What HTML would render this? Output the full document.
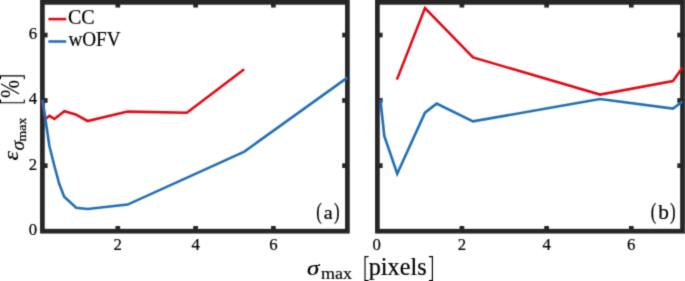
<!DOCTYPE html>
<html><head><meta charset="utf-8"><style>
html,body{margin:0;padding:0;background:#fff;width:685px;height:281px;overflow:hidden}
svg{display:block}
</style></head><body>
<svg width="685" height="281" viewBox="0 0 685 281">
<defs><clipPath id="cl"><rect x="42.4" y="2.35" width="305" height="228.45"/></clipPath><clipPath id="cr"><rect x="377.4" y="2.35" width="305.1" height="228.45"/></clipPath><filter id="bl" filterUnits="userSpaceOnUse" x="0" y="0" width="685" height="281" color-interpolation-filters="sRGB"><feConvolveMatrix order="3" kernelMatrix="0.0225 0.1050 0.0225 0.1050 0.4900 0.1050 0.0225 0.1050 0.0225" divisor="1" edgeMode="duplicate"/></filter></defs>
<g filter="url(#bl)">
<rect width="685" height="281" fill="#fff"/>
<g stroke="#262626" stroke-width="4.7"><line x1="117.8" y1="231.2" x2="117.8" y2="226.00"/><line x1="117.8" y1="2.35" x2="117.8" y2="7.55"/><line x1="195.6" y1="231.2" x2="195.6" y2="226.00"/><line x1="195.6" y1="2.35" x2="195.6" y2="7.55"/><line x1="273.4" y1="231.2" x2="273.4" y2="226.00"/><line x1="273.4" y1="2.35" x2="273.4" y2="7.55"/><line x1="42.4" y1="35.05" x2="47.60" y2="35.05"/><line x1="347.4" y1="35.05" x2="342.20" y2="35.05"/><line x1="42.4" y1="100.45" x2="47.60" y2="100.45"/><line x1="347.4" y1="100.45" x2="342.20" y2="100.45"/><line x1="42.4" y1="165.65" x2="47.60" y2="165.65"/><line x1="347.4" y1="165.65" x2="342.20" y2="165.65"/><rect x="42.4" y="2.35" width="305.00" height="228.85" fill="none"/></g>
<g stroke="#262626" stroke-width="4.7"><line x1="461.9" y1="231.2" x2="461.9" y2="226.00"/><line x1="461.9" y1="2.35" x2="461.9" y2="7.55"/><line x1="546.6" y1="231.2" x2="546.6" y2="226.00"/><line x1="546.6" y1="2.35" x2="546.6" y2="7.55"/><line x1="631.3" y1="231.2" x2="631.3" y2="226.00"/><line x1="631.3" y1="2.35" x2="631.3" y2="7.55"/><line x1="377.4" y1="35.05" x2="382.60" y2="35.05"/><line x1="682.5" y1="35.05" x2="677.30" y2="35.05"/><line x1="377.4" y1="100.45" x2="382.60" y2="100.45"/><line x1="682.5" y1="100.45" x2="677.30" y2="100.45"/><line x1="377.4" y1="165.65" x2="382.60" y2="165.65"/><line x1="682.5" y1="165.65" x2="677.30" y2="165.65"/><rect x="377.4" y="2.35" width="305.10" height="228.85" fill="none"/></g>
<polyline points="41.9,100.8 45.4,119 49.6,115.8 54.4,119 64.4,111.2 75.6,114.4 87.6,121 127.7,111.6 186.9,112.7 244.2,69.2" fill="none" stroke="#E00A14" stroke-width="2.6" stroke-linejoin="miter" stroke-miterlimit="10"/><polyline points="42.5,99.6 45.6,120.5 49.4,146 54.4,166 59.3,184 64.2,196.8 76.2,207.8 87.6,209 127.6,204.6 244.4,151.6 347.4,77.6" fill="none" stroke="#216FB4" stroke-width="2.6" stroke-linejoin="miter" stroke-miterlimit="10"/>
<polyline points="396.9,79.6 425,8 473,57.4 600,94.6 673,81 682.5,67.5" fill="none" stroke="#E00A14" stroke-width="2.6" stroke-linejoin="miter" stroke-miterlimit="10"/><polyline points="380.4,99.6 384.3,136 397.2,173.7 425,112.6 436.6,103.6 473,121.4 600,99 673,108.6 682.5,101.5" fill="none" stroke="#216FB4" stroke-width="2.6" stroke-linejoin="miter" stroke-miterlimit="10"/>
<line x1="48.4" y1="19.1" x2="66.2" y2="19.1" stroke="#E00A14" stroke-width="2.6"/>
<line x1="48.4" y1="41.5" x2="66.2" y2="41.5" stroke="#216FB4" stroke-width="2.6"/>
<g font-family="Liberation Serif" fill="#000" stroke="#000" stroke-width="0.2">
<text x="68.0" y="23.5" font-size="20">CC</text>
<text transform="translate(68.4,46.3) scale(0.96,1)" font-size="20">wOFV</text>
<text transform="translate(37.1,235.1) scale(0.97,1)" font-size="17.3" text-anchor="end">0</text>
<text transform="translate(37.1,38.949999999999996) scale(0.97,1)" font-size="17.3" text-anchor="end">6</text>
<text transform="translate(37.1,104.35000000000001) scale(0.97,1)" font-size="17.3" text-anchor="end">4</text>
<text transform="translate(37.1,169.55) scale(0.97,1)" font-size="17.3" text-anchor="end">2</text>
<text transform="translate(117.8,250.2) scale(0.97,1)" font-size="17.3" text-anchor="middle">2</text>
<text transform="translate(195.6,250.2) scale(0.97,1)" font-size="17.3" text-anchor="middle">4</text>
<text transform="translate(273.4,250.2) scale(0.97,1)" font-size="17.3" text-anchor="middle">6</text>
<text transform="translate(376.8,250.2) scale(0.97,1)" font-size="17.3" text-anchor="middle">0</text>
<text transform="translate(461.9,250.2) scale(0.97,1)" font-size="17.3" text-anchor="middle">2</text>
<text transform="translate(546.6,250.2) scale(0.97,1)" font-size="17.3" text-anchor="middle">4</text>
<text transform="translate(631.3,250.2) scale(0.97,1)" font-size="17.3" text-anchor="middle">6</text>
<text transform="translate(316.36,218.85) scale(0.75,1)" font-size="22.4">(</text>
<text transform="translate(323.67,218.85) scale(1.12,1)" font-size="18">a</text>
<text transform="translate(333.94,218.85) scale(0.75,1)" font-size="22.4">)</text>
<text transform="translate(650.86,218.85) scale(0.75,1)" font-size="22.4">(</text>
<text x="658.3" y="218.85" font-size="21.3">b</text>
<text transform="translate(669.94,218.85) scale(0.75,1)" font-size="22.4">)</text>
<text transform="translate(306.9,274.5) scale(1.25,1)" font-size="20" font-style="italic">σ</text>
<text transform="translate(320.9,278.9) scale(1.03,1)" font-size="17.5">max</text>
<text transform="translate(368.7,274.8) scale(0.99,1)" font-size="24.5">pixels</text>
<path d="M368.6,256.6 H365.0 V280.6 H368.6 M428.9,256.6 H432.4 V280.6 H428.9" fill="none" stroke="#000" stroke-width="1.15"/>
<g transform="translate(18.5,162) rotate(-90)">
<text transform="translate(1.6,-0.8) scale(1.15,1)" font-size="21" font-style="italic">ε</text>
<text x="11.6" y="5.5" font-size="19.5" font-style="italic">σ</text>
<text transform="translate(20.6,7.2) scale(1.15,1)" font-size="12">max</text>
<text transform="translate(64.1,0) scale(0.9,1.13)" font-size="24" stroke-width="0">%</text>
</g>
<path d="M0.5,79.2 V75.9 H24.3 V79.2" fill="none" stroke="#000" stroke-width="1.1"/>
<path d="M0.5,99.5 V102.8 H24.3 V99.5" fill="none" stroke="#000" stroke-width="1.1"/>
</g>
</g></svg>
</body></html>
